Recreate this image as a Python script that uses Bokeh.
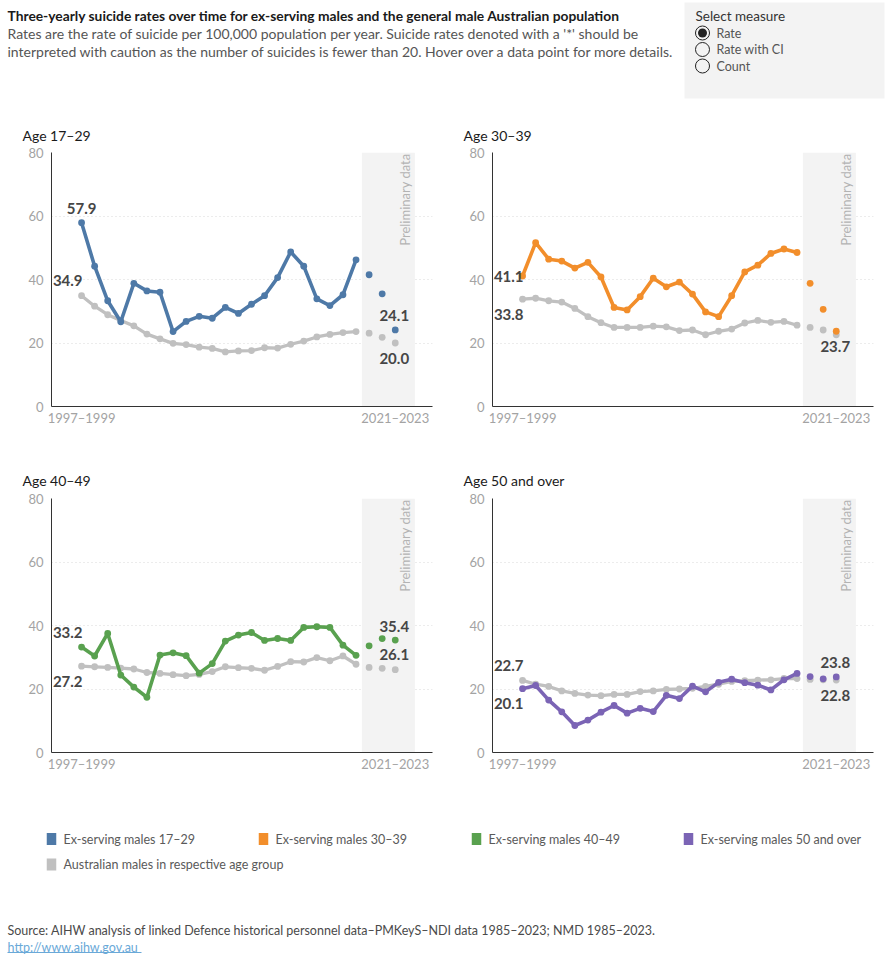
import math

from bokeh.core.properties import value
from bokeh.embed import file_html
from bokeh.layouts import column, row
from bokeh.models import BoxAnnotation, ColumnDataSource, FixedTicker, Label, Range1d
from bokeh.plotting import figure
from bokeh.resources import INLINE

# ---------------------------------------------------------------- data
# three-year reporting periods, 1997–1999 ... 2021–2023
periods = [f"{y}–{y + 2}" for y in range(1997, 2022)]

ex_17_29 = [57.9, 44.2, 33.3, 26.7, 38.8, 36.4, 36.0, 23.6, 26.8, 28.4, 27.8, 31.2, 29.3,
            32.2, 34.9, 40.6, 48.7, 44.2, 33.9, 31.8, 35.2, 46.2, 41.5, 35.5, 24.1]
gen_17_29 = [34.9, 31.6, 28.9, 27.1, 25.4, 22.8, 21.3, 19.9, 19.5, 18.7, 18.3, 17.2, 17.5,
             17.6, 18.5, 18.4, 19.6, 20.6, 21.9, 22.7, 23.3, 23.6, 23.1, 21.8, 20.0]

ex_30_39 = [41.1, 51.6, 46.4, 45.8, 43.6, 45.4, 40.8, 31.2, 30.4, 34.6, 40.4, 37.7, 39.2,
            35.4, 29.8, 28.3, 34.9, 42.4, 44.5, 48.2, 49.6, 48.5, 38.8, 30.6, 23.7]
gen_30_39 = [33.8, 34.1, 33.3, 32.9, 30.9, 28.3, 26.4, 24.9, 24.9, 24.9, 25.3, 25.1, 23.9,
             24.1, 22.6, 23.7, 24.4, 26.3, 27.1, 26.5, 26.8, 25.6, 24.9, 24.1, 22.6]

ex_40_49 = [33.2, 30.4, 37.5, 24.4, 20.6, 17.4, 30.7, 31.4, 30.5, 25.0, 28.0, 35.1, 37.0,
            37.8, 35.3, 35.9, 35.3, 39.4, 39.6, 39.4, 33.8, 30.6, 33.6, 35.9, 35.4]
gen_40_49 = [27.2, 27.0, 26.8, 26.6, 26.3, 25.2, 24.9, 24.5, 24.2, 24.6, 25.5, 27.0, 26.7,
             26.5, 25.9, 27.1, 28.6, 28.5, 29.9, 28.9, 30.4, 27.8, 26.8, 26.5, 26.1]

ex_50_plus = [20.1, 21.1, 16.5, 12.8, 8.5, 10.2, 12.7, 14.8, 12.4, 13.9, 12.9, 18.0, 17.0,
              20.9, 19.1, 22.1, 23.1, 22.0, 21.2, 19.7, 22.9, 24.9, 23.9, 23.2, 23.8]
gen_50_plus = [22.7, 21.5, 20.8, 19.4, 18.6, 18.1, 17.9, 18.3, 18.3, 19.2, 19.4, 19.9, 20.0,
               20.2, 20.8, 21.5, 22.4, 22.6, 22.8, 22.9, 23.3, 23.3, 23.0, 22.9, 22.8]

age_groups = ["17–29", "30–39", "40–49", "50 and over"]
panel_titles = ["Age 17–29", "Age 30–39", "Age 40–49", "Age 50 and over"]
legend_labels = ["Ex-serving males 17–29", "Ex-serving males 30–39", "Ex-serving males 40–49",
                 "Ex-serving males 50 and over", "Australian males in respective age group"]
measures = ["Rate", "Rate with CI", "Count"]

N_PRELIM = 3  # last three periods are preliminary (points only, no connecting line)

# ---------------------------------------------------------------- styling
FONT = "Lato"
SERIES_COLORS = ["#4e79a7", "#f28e2b", "#59a14f", "#7b64b5"]
GENERAL_COLOR = "#c0c0c0"
LABEL_COLOR = "#464646"
AXIS_TEXT = "#a3a3a3"

W = 890
HEADER_H, ROW1_H, ROW2_H, FOOTER_H = 110, 330, 350, 170
X_RANGE = (-2.3, 26.85)
PRELIM_BAND = (21.45, 25.5)

# value labels: (series, index, dx px, dy px, align)
label_specs = [
    [("ex", 0, 0, -14, "center"), ("gen", 0, 1, -15, "right"),
     ("ex", -1, -1, -14, "center"), ("gen", -1, -1, 15, "center")],
    [("ex", 0, 1, 0, "right"), ("gen", 0, 1, 15, "right"),
     ("ex", -1, -1, 15, "center")],
    [("ex", 0, 1, -15, "right"), ("gen", 0, 1, 15, "right"),
     ("ex", -1, -1, -14, "center"), ("gen", -1, -1, -15, "center")],
    [("gen", 0, 1, -15, "right"), ("ex", 0, 1, 15, "right"),
     ("ex", -1, -1, -14, "center"), ("gen", -1, -1, 15, "center")],
]


def make_panel(idx, ex_vals, gen_vals, height, border_left, border_right, border_top,
               border_bottom, title_standoff):
    color = SERIES_COLORS[idx]
    p = figure(width=445, height=height, x_range=Range1d(*X_RANGE), y_range=Range1d(0, 80),
               output_backend="svg", toolbar_location=None,
               min_border_left=border_left, min_border_right=border_right,
               min_border_top=border_top, min_border_bottom=border_bottom,
               outline_line_color=None, background_fill_color="white", border_fill_color="white")

    p.title.text = panel_titles[idx]
    p.title.align = "left"
    p.title.offset = -29
    p.title.text_font = FONT
    p.title.text_font_size = "14px"
    p.title.text_font_style = "normal"
    p.title.text_color = "#1a1a1a"
    p.title.standoff = title_standoff

    # shaded window for preliminary data
    p.add_layout(BoxAnnotation(left=PRELIM_BAND[0], right=PRELIM_BAND[1],
                               fill_color="#f3f3f3", fill_alpha=1.0, line_color=None,
                               level="underlay"))
    p.add_layout(Label(x=PRELIM_BAND[1] - 0.75, y=80, text="Preliminary data",
                       angle=math.pi / 2, text_align="right", text_baseline="middle",
                       y_offset=-1, text_font=FONT, text_font_size="13px",
                       text_color="#b3b3b3"))

    xs = list(range(len(periods)))
    n_line = len(periods) - N_PRELIM

    # general population (grey) underneath
    p.line(xs[:n_line], gen_vals[:n_line], line_color=GENERAL_COLOR, line_width=3.3)
    p.scatter(xs, gen_vals, size=6.8, fill_color=GENERAL_COLOR, line_color=None)

    # ex-serving series
    p.line(xs[:n_line], ex_vals[:n_line], line_color=color, line_width=3.6)
    p.scatter(xs, ex_vals, size=6.8, fill_color=color, line_color=None)

    # value labels for first and last periods
    series = {"ex": ex_vals, "gen": gen_vals}
    for align in ("center", "right"):
        rows = [s for s in label_specs[idx] if s[4] == align]
        if not rows:
            continue
        src = ColumnDataSource(dict(
            x=[xs[i] for _, i, _, _, _ in rows],
            y=[series[k][i] for k, i, _, _, _ in rows],
            t=[f"{series[k][i]:.1f}" for k, i, _, _, _ in rows],
            dx=[d for _, _, d, _, _ in rows],
            dy=[d for _, _, _, d, _ in rows],
        ))
        p.text(x="x", y="y", text="t", x_offset="dx", y_offset="dy", source=src,
               text_align=align, text_baseline="middle", text_font=value(FONT),
               text_font_size="15px", text_font_style="bold", text_color=LABEL_COLOR)

    # axes
    p.yaxis.ticker = FixedTicker(ticks=[0, 20, 40, 60, 80])
    p.xaxis.ticker = FixedTicker(ticks=[0, len(periods) - 1])
    p.xaxis.major_label_overrides = {0: periods[0], len(periods) - 1: periods[-1]}
    for ax in (p.xaxis, p.yaxis):
        ax.axis_line_color = "#333333"
        ax.axis_line_width = 1
        ax.major_tick_line_color = None
        ax.minor_tick_line_color = None
        ax.major_tick_out = 0
        ax.major_tick_in = 0
        ax.minor_tick_out = 0
        ax.major_label_text_font = FONT
        ax.major_label_text_font_size = "13px"
        ax.major_label_text_color = AXIS_TEXT
    p.yaxis.major_label_standoff = 8
    p.xaxis.major_label_standoff = 3

    p.xgrid.visible = False
    p.ygrid.grid_line_color = "#d9d9d9"
    p.ygrid.grid_line_dash = "1 3"
    p.ygrid.grid_line_width = 1
    return p


def blank(height):
    p = figure(width=W, height=height, x_range=Range1d(0, W), y_range=Range1d(height, 0),
               output_backend="svg", toolbar_location=None, min_border=0,
               x_axis_type=None, y_axis_type=None, outline_line_color=None,
               background_fill_color="white", border_fill_color="white")
    p.grid.visible = False
    return p


# ---------------------------------------------------------------- header
header = blank(HEADER_H)
header.text(x=[7], y=[15], text=["Three-yearly suicide rates over time for ex-serving males "
                                 "and the general male Australian population"],
            text_font=value(FONT), text_font_size="13.8px", text_font_style="bold",
            text_color="#1a1a1a", text_baseline="middle")
header.text(x=[7, 7], y=[33, 51],
            text=["Rates are the rate of suicide per 100,000 population per year. Suicide rates "
                  "denoted with a '*' should be",
                  "interpreted with caution as the number of suicides is fewer than 20. Hover "
                  "over a data point for more details."],
            text_font=value(FONT), text_font_size="14px", text_color="#555555",
            text_baseline="middle")

# measure selector
header.quad(left=[684], right=[884], top=[2], bottom=[98], fill_color="#f3f3f3", line_color=None)
header.text(x=[695], y=[15], text=["Select measure"], text_font=value(FONT),
            text_font_size="13.5px", text_color="#333333", text_baseline="middle")
radio_y = [32.5, 49, 65.5]
header.scatter(x=[702] * 3, y=radio_y, size=14, fill_color=None, line_color="#222222",
               line_width=1)
header.scatter(x=[702], y=radio_y[:1], size=9, fill_color="#222222", line_color=None)
header.text(x=[716] * 3, y=radio_y, text=measures, text_font=value(FONT),
            text_font_size="12.5px", text_color="#555555", text_baseline="middle")

# ---------------------------------------------------------------- panels
p1 = make_panel(0, ex_17_29, gen_17_29, ROW1_H, 51, 13, 42, 34, 18)
p2 = make_panel(1, ex_30_39, gen_30_39, ROW1_H, 47, 17, 42, 34, 18)
p3 = make_panel(2, ex_40_49, gen_40_49, ROW2_H, 51, 13, 58, 38, 20)
p4 = make_panel(3, ex_50_plus, gen_50_plus, ROW2_H, 47, 17, 58, 38, 20)

# ---------------------------------------------------------------- footer
footer = blank(FOOTER_H)
legend_x = [51, 263, 476, 688, 51]
legend_y = [48.5, 48.5, 48.5, 48.5, 74]
footer.rect(x=legend_x, y=legend_y, width=9.5, height=12,
            fill_color=SERIES_COLORS + [GENERAL_COLOR], line_color=None)
footer.text(x=[x + 12 for x in legend_x], y=legend_y, text=legend_labels,
            text_font=value(FONT), text_font_size="12.5px", text_color="#5a5a5a",
            text_baseline="middle")
footer.text(x=[7], y=[140], text=["Source: AIHW analysis of linked Defence historical personnel "
                                  "data–PMKeyS–NDI data 1985–2023; NMD 1985–2023."],
            text_font=value(FONT), text_font_size="12.5px", text_color="#4a4a4a",
            text_baseline="middle")
footer.text(x=[7], y=[156.5], text=["http://www.aihw.gov.au"], text_font=value(FONT),
            text_font_size="12.5px", text_color="#6aa9d8", text_baseline="middle")
footer.segment(x0=[7], x1=[141], y0=[162], y1=[162], line_color="#6aa9d8", line_width=1)

layout = column(header, row(p1, p2, spacing=0), row(p3, p4, spacing=0), footer, spacing=0)

with open("out.html", "w") as f:
    f.write(file_html(layout, INLINE, title="Suicide rates – ex-serving males"))
